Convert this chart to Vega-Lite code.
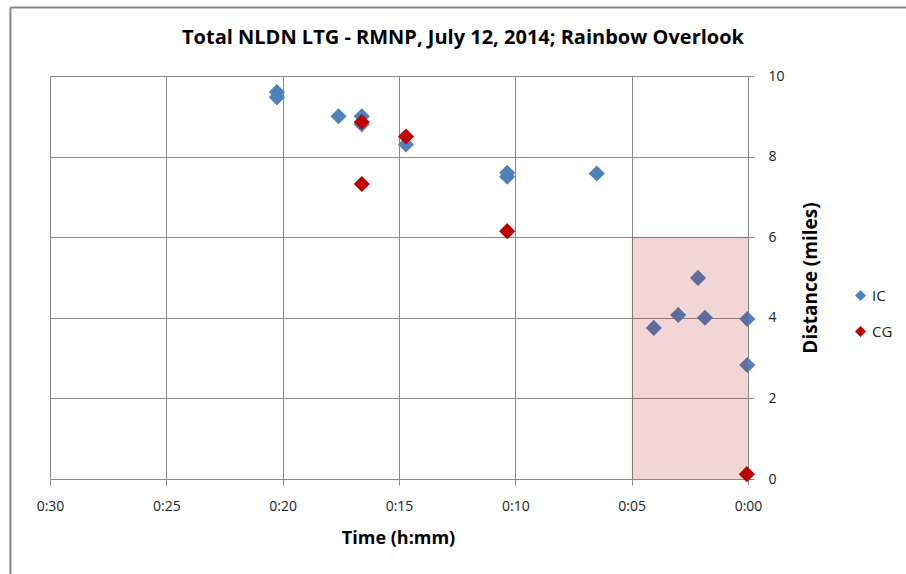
{
  "$schema": "https://vega.github.io/schema/vega-lite/v6.json",
  "width": 698,
  "height": 403,
  "autosize": "none",
  "padding": {"left": 50, "top": 76, "right": 158, "bottom": 95},
  "background": "white",
  "config": {
    "view": {"stroke": null},
    "font": "Open Sans",
    "axis": {"gridColor": "#8a8a8a", "gridWidth": 1, "domainColor": "#8a8a8a", "tickColor": "#8a8a8a", "labelColor": "#222", "labelFontSize": 14, "titleFontSize": 18, "titleFontWeight": "bold", "titleColor": "#000", "labelFont": "Open Sans", "titleFont": "Open Sans"}
  },
  "title": {"text": "Total NLDN LTG - RMNP, July 12, 2014; Rainbow Overlook", "fontSize": 20, "fontWeight": "bold", "font": "Open Sans", "color": "#000", "dx": 64, "offset": -42},
  "layer": [
    {
      "data": {"values": [
        {"bx": 31.7, "bx2": 31.7, "by": 11.7, "by2": -2.4},
        {"bx": 31.7, "bx2": -7, "by": 11.7, "by2": 11.7}
      ]},
      "mark": {"type": "rule", "color": "#888888", "strokeWidth": 2, "clip": false},
      "encoding": {
        "x": {"field": "bx", "type": "quantitative"},
        "x2": {"field": "bx2"},
        "y": {"field": "by", "type": "quantitative"},
        "y2": {"field": "by2"}
      }
    },
    {
      "data": {"values": [
        {"t": 20.25, "d": 9.6, "type": "IC"},
        {"t": 20.25, "d": 9.47, "type": "IC"},
        {"t": 17.6, "d": 9.0, "type": "IC"},
        {"t": 16.6, "d": 9.0, "type": "IC"},
        {"t": 16.6, "d": 8.8, "type": "IC"},
        {"t": 14.7, "d": 8.3, "type": "IC"},
        {"t": 10.35, "d": 7.6, "type": "IC"},
        {"t": 10.35, "d": 7.5, "type": "IC"},
        {"t": 6.5, "d": 7.58, "type": "IC"},
        {"t": 4.05, "d": 3.75, "type": "IC"},
        {"t": 3.0, "d": 4.07, "type": "IC"},
        {"t": 2.15, "d": 4.99, "type": "IC"},
        {"t": 1.85, "d": 4.0, "type": "IC"},
        {"t": 0.03, "d": 3.97, "type": "IC"},
        {"t": 0.03, "d": 2.83, "type": "IC"},
        {"t": 16.6, "d": 8.86, "type": "CG"},
        {"t": 16.6, "d": 7.32, "type": "CG"},
        {"t": 14.7, "d": 8.5, "type": "CG"},
        {"t": 10.35, "d": 6.15, "type": "CG"},
        {"t": 0.05, "d": 0.12, "type": "CG"}
      ]},
      "mark": {"type": "point", "shape": "diamond", "filled": true, "size": 260, "opacity": 1},
      "encoding": {
        "x": {"field": "t", "type": "quantitative", "scale": {"domain": [0, 30], "reverse": true, "nice": false}, "axis": {"values": [0, 5, 10, 15, 20, 25, 30], "labelExpr": "'0:' + (datum.value < 10 ? '0' : '') + datum.value", "labelAlign": "center", "labelFlush": false, "title": "Time (h:mm)", "titlePadding": 16, "labelPadding": 14, "tickSize": 6, "titleX": 348}},
        "y": {"field": "d", "type": "quantitative", "scale": {"domain": [0, 10], "nice": false}, "axis": {"orient": "right", "values": [0, 2, 4, 6, 8, 10], "title": "Distance (miles)", "titleAngle": 270, "titleFontSize": 19, "titlePadding": 36, "labelPadding": 14, "tickSize": 6}},
        "color": {"field": "type", "type": "nominal", "scale": {"domain": ["IC", "CG"], "range": ["#4F81BD", "#C00000"]}, "legend": {"title": null, "orient": "none", "legendX": 803, "legendY": 212, "symbolType": "diamond", "symbolSize": 120, "labelFontSize": 15, "labelFont": "Open Sans", "labelColor": "#222", "rowPadding": 20}}
      }
    },
    {
      "data": {"values": [{"x1": 5, "x2": 0, "y1": 6, "y2": 0}]},
      "mark": {"type": "rect", "color": "#b00000", "opacity": 0.16},
      "encoding": {
        "x": {"field": "x1", "type": "quantitative"},
        "x2": {"field": "x2"},
        "y": {"field": "y1", "type": "quantitative"},
        "y2": {"field": "y2"}
      }
    }
  ]
}
